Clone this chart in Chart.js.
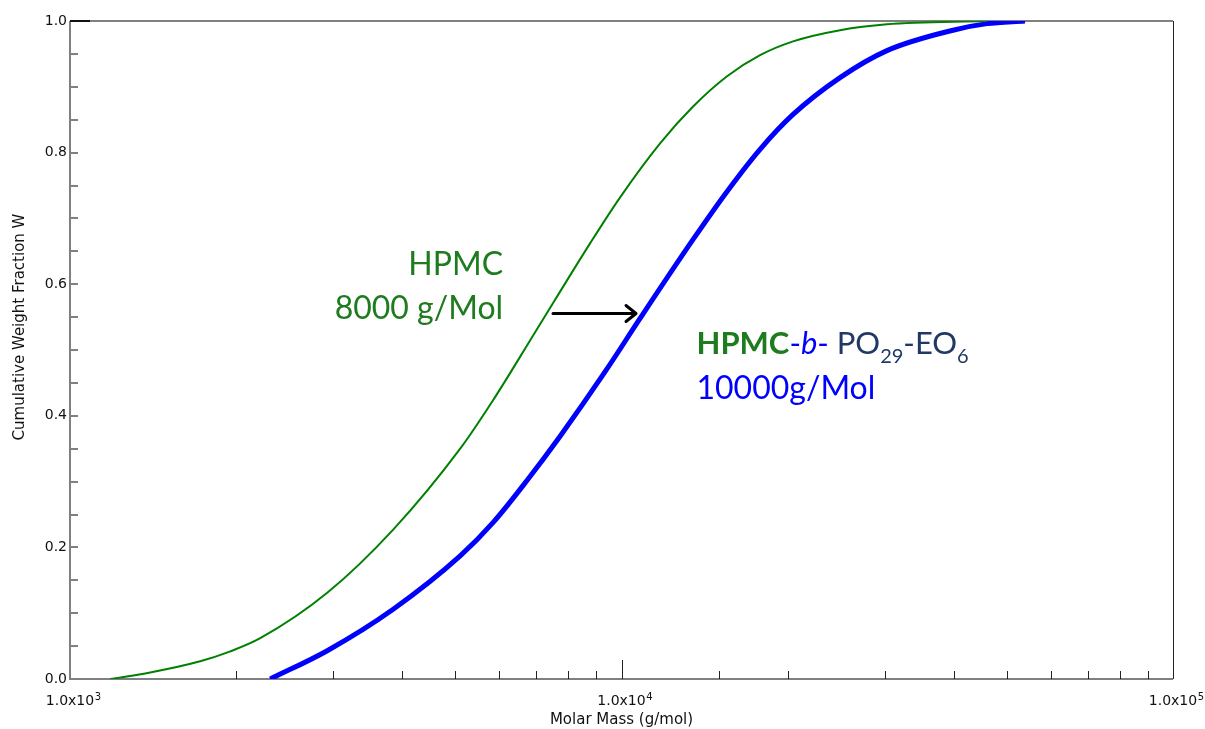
<!DOCTYPE html>
<html lang="en">
<head>
<meta charset="UTF-8">
<title>Cumulative Weight Fraction</title>
<script src="https://cdn.jsdelivr.net/npm/chart.js"></script>
<style>
  body { margin: 0; background: #fff; }
  #wrap { width: 1205px; height: 729px; }
</style>
</head>
<body>
<div id="wrap"><canvas id="molarChart" width="1205" height="729"></canvas></div>
<script>
// HPMC (green) and HPMC-b-PO29-EO6 (blue) cumulative molar mass distributions
const massHPMC = [1183, 1398, 1722, 1953, 2213, 2927, 3855, 5099, 5853, 6915, 8770, 9942, 11748, 13484, 15540, 17834, 20470, 24903, 30295, 45990];
const fracHPMC = [0, 0.010, 0.027, 0.042, 0.062, 0.131, 0.227, 0.350, 0.424, 0.522, 0.662, 0.732, 0.814, 0.870, 0.916, 0.948, 0.969, 0.986, 0.995, 1.0];

const massBlock = [2307, 2927, 3855, 5099, 5853, 6744, 7739, 9339, 10806, 13484, 15540, 17834, 20470, 24903, 30295, 39915, 45990, 53900];
const fracBlock = [0, 0.043, 0.106, 0.187, 0.238, 0.302, 0.369, 0.467, 0.548, 0.668, 0.741, 0.805, 0.858, 0.914, 0.955, 0.986, 0.996, 1.0];

// x decade labels: mantissa text and power of ten
const xTickBase = '1.0x10';
const xTickPowers = [3, 4, 5];

const GREEN_LINE = '#008000';
const GREEN_TEXT = '#1e7b1e';
const BLUE = '#0000ff';
const NAVY = '#1f3864';
const AXIS_TEXT = '#111';

function toPoints(xs, ys) {
  return xs.map((m, i) => ({ x: m, y: ys[i] }));
}

function decadeOf(v) {
  const l = Math.log10(v);
  return Math.abs(l - Math.round(l)) < 1e-9 ? Math.round(l) : null;
}

// frame and inward tick marks
const frame = {
  id: 'frame',
  beforeDatasetsDraw(chart) {
    const { ctx, chartArea: a, scales: { x, y } } = chart;
    ctx.save();
    ctx.lineCap = 'butt';

    ctx.strokeStyle = '#808080';
    ctx.lineWidth = 2;
    ctx.beginPath();
    ctx.moveTo(a.left, a.top); ctx.lineTo(a.right, a.top);
    ctx.moveTo(a.left, a.top); ctx.lineTo(a.left, a.bottom); ctx.lineTo(a.right, a.bottom);
    ctx.stroke();

    ctx.strokeStyle = '#222';
    ctx.lineWidth = 1;
    ctx.beginPath();
    ctx.moveTo(a.right + 0.5, a.top); ctx.lineTo(a.right + 0.5, a.bottom);
    ctx.stroke();

    // y ticks every 0.05
    ctx.strokeStyle = '#808080';
    ctx.lineWidth = 2;
    y.ticks.forEach(t => {
      const py = Math.round(y.getPixelForValue(t.value));
      if (t.value >= 0.999 || t.value <= 0.001) return;
      ctx.beginPath();
      ctx.moveTo(a.left, py); ctx.lineTo(a.left + 8, py);
      ctx.stroke();
    });
    ctx.strokeStyle = '#111';
    ctx.beginPath();
    ctx.moveTo(a.left, a.top); ctx.lineTo(a.left + 20, a.top);
    ctx.stroke();

    // x ticks: decades long, 2..9 short
    ctx.strokeStyle = '#222';
    ctx.lineWidth = 1;
    x.ticks.forEach(t => {
      const px = Math.round(x.getPixelForValue(t.value)) + 0.5;
      if (px <= a.left + 2 || px >= a.right - 2) return;
      const len = decadeOf(t.value) !== null ? 19 : 8;
      ctx.beginPath();
      ctx.moveTo(px, a.bottom); ctx.lineTo(px, a.bottom - len);
      ctx.stroke();
    });

    // decade labels with raised exponent
    ctx.fillStyle = AXIS_TEXT;
    ctx.textBaseline = 'alphabetic';
    xTickPowers.forEach(p => {
      const px = x.getPixelForValue(Math.pow(10, p));
      ctx.font = '14px "DejaVu Sans"';
      ctx.textAlign = 'center';
      ctx.fillText(xTickBase, px, a.bottom + 26);
      const w = ctx.measureText(xTickBase).width;
      ctx.font = '10px "DejaVu Sans"';
      ctx.textAlign = 'left';
      ctx.fillText(String(p), px + w / 2 + 0.5, a.bottom + 21);
    });
    ctx.restore();
  }
};

// axis title on the left and the in-plot notes
const notes = {
  id: 'notes',
  afterDatasetsDraw(chart) {
    const { ctx, scales: { x, y } } = chart;
    ctx.save();

    ctx.fillStyle = AXIS_TEXT;
    ctx.font = '15px "DejaVu Sans"';
    ctx.textAlign = 'center';
    ctx.textBaseline = 'middle';
    ctx.translate(20, 327);
    ctx.rotate(-Math.PI / 2);
    ctx.fillText('Cumulative Weight Fraction W', 0, 0);
    ctx.setTransform(1, 0, 0, 1, 0, 0);

    // HPMC label
    ctx.textBaseline = 'alphabetic';
    ctx.textAlign = 'right';
    ctx.fillStyle = GREEN_TEXT;
    ctx.font = '32px Lato';
    const lx = x.getPixelForValue(6100);
    ctx.fillText('HPMC', lx, y.getPixelForValue(0.614));
    ctx.fillText('8000 g/Mol', lx, y.getPixelForValue(0.547));

    // shift arrow
    const ay = Math.round(y.getPixelForValue(0.5555)) + 0.5;
    const ax0 = x.getPixelForValue(7512);
    const ax1 = x.getPixelForValue(10625);
    ctx.strokeStyle = '#000';
    ctx.lineWidth = 3;
    ctx.lineCap = 'round';
    ctx.lineJoin = 'round';
    ctx.beginPath();
    ctx.moveTo(ax0, ay); ctx.lineTo(ax1 - 1, ay);
    ctx.moveTo(ax1 - 10, ay - 8); ctx.lineTo(ax1, ay); ctx.lineTo(ax1 - 10, ay + 8);
    ctx.stroke();

    // block copolymer label
    ctx.textAlign = 'left';
    const bx0 = x.getPixelForValue(13677);
    let bx = bx0;
    const by = y.getPixelForValue(0.494);
    const parts = [
      { t: 'HPMC', f: 'bold 31px Lato', c: GREEN_TEXT, dy: 0 },
      { t: '-', f: '31px Lato', c: BLUE, dy: 0 },
      { t: 'b', f: 'italic 31px Lato', c: BLUE, dy: 0 },
      { t: '- ', f: '31px Lato', c: BLUE, dy: 0 },
      { t: 'PO', f: '31px Lato', c: NAVY, dy: 0 },
      { t: '29', f: '20px Lato', c: NAVY, dy: 9 },
      { t: '-EO', f: '31px Lato', c: NAVY, dy: 0 },
      { t: '6', f: '20px Lato', c: NAVY, dy: 9 }
    ];
    parts.forEach(p => {
      ctx.font = p.f;
      ctx.fillStyle = p.c;
      ctx.fillText(p.t, bx, by + p.dy);
      bx += ctx.measureText(p.t).width;
    });
    ctx.font = '32px Lato';
    ctx.fillStyle = BLUE;
    ctx.fillText('10000g/Mol', bx0, y.getPixelForValue(0.425));

    ctx.restore();
  }
};

new Chart(document.getElementById('molarChart'), {
  type: 'line',
  data: {
    datasets: [
      {
        label: 'HPMC',
        data: toPoints(massHPMC, fracHPMC),
        borderColor: GREEN_LINE,
        borderWidth: 2,
        pointRadius: 0,
        cubicInterpolationMode: 'monotone',
        fill: false
      },
      {
        label: 'HPMC-b-PO29-EO6',
        data: toPoints(massBlock, fracBlock),
        borderColor: BLUE,
        borderWidth: 5,
        pointRadius: 0,
        cubicInterpolationMode: 'monotone',
        fill: false
      }
    ]
  },
  options: {
    responsive: false,
    animation: false,
    layout: { padding: { top: 21, right: 32, left: 0, bottom: 0 } },
    plugins: { legend: { display: false }, tooltip: { enabled: false } },
    scales: {
      x: {
        type: 'logarithmic',
        min: 1000,
        max: 100000,
        grid: { display: false, drawTicks: false },
        border: { display: false },
        ticks: {
          autoSkip: false,
          maxRotation: 0,
          callback: () => ''
        },
        title: {
          display: true,
          text: 'Molar Mass (g/mol)',
          color: AXIS_TEXT,
          font: { family: 'DejaVu Sans', size: 15 },
          padding: { top: 0, bottom: 0 }
        },
        afterFit: s => { s.height = 50; s.paddingLeft = 0; s.paddingRight = 0; }
      },
      y: {
        min: 0,
        max: 1,
        grid: { display: false, drawTicks: false },
        border: { display: false },
        ticks: {
          stepSize: 0.05,
          autoSkip: false,
          padding: 3,
          color: AXIS_TEXT,
          font: { family: 'DejaVu Sans', size: 14 },
          callback: v => Math.abs(v * 5 - Math.round(v * 5)) < 1e-6 ? v.toFixed(1) : ''
        },
        afterFit: s => { s.width = 70; }
      }
    }
  },
  plugins: [frame, notes]
});
</script>
</body>
</html>
